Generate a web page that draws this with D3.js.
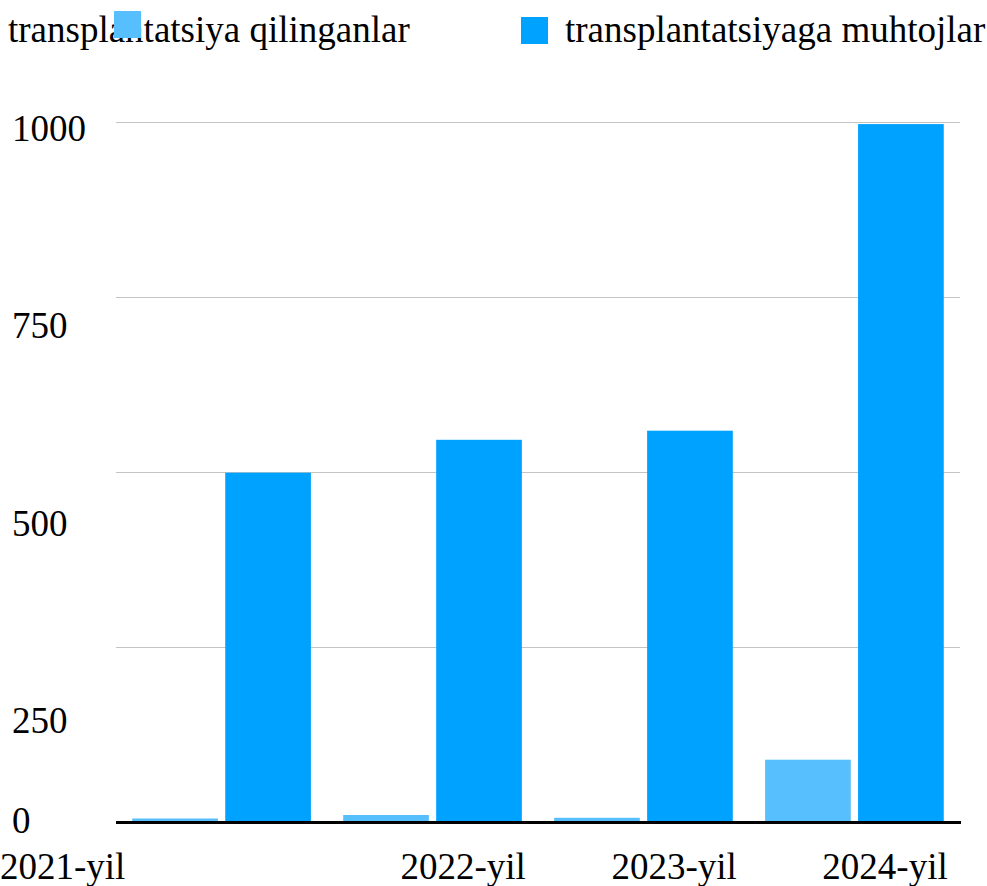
<!DOCTYPE html>
<html>
<head>
<meta charset="utf-8">
<script src="https://cdn.jsdelivr.net/npm/d3@7"></script>
<style>
  html, body { margin: 0; padding: 0; background: #fff; }
  svg { display: block; }
</style>
</head>
<body>
<div id="chart"></div>
<script>
'use strict';

// chart data
var years = ['2021-yil', '2022-yil', '2023-yil', '2024-yil'];
var seriesNames = ['transplantatsiya qilinganlar', 'transplantatsiyaga muhtojlar'];
var transplanted = [5, 10, 6, 89];
var needed = [499, 546, 559, 997];
var yTicks = [0, 250, 500, 750, 1000];
var colors = ['#58bfff', '#00a2ff'];

var width = 987, height = 886;
var margins = { top: 122, right: 27, bottom: 64, left: 116 };
var FONT = "'Liberation Serif'";

var svg = d3.select('#chart').append('svg')
  .attr('width', width)
  .attr('height', height);

// scales
var x0 = d3.scaleBand()
  .domain(years)
  .range([margins.left, width - margins.right])
  .paddingInner(0.153)
  .paddingOuter(0.077);

var x1 = d3.scaleBand()
  .domain(seriesNames)
  .range([0, x0.bandwidth()])
  .paddingInner(0.0785);

var y = d3.scaleLinear()
  .domain([0, 1000])
  .range([height - margins.bottom, margins.top]);

// tick labels sit on their own spacing, not on the gridlines
var labelY = d3.scaleLinear().domain([250, 1000]).range([733, 141]);

// gridlines
svg.append('g').attr('class', 'grid')
  .selectAll('line')
  .data(yTicks.filter(function (d) { return d > 0; }))
  .enter().append('line')
  .attr('x1', margins.left)
  .attr('x2', width - margins.right)
  .attr('y1', function (d) { return y(d) + 0.5; })
  .attr('y2', function (d) { return y(d) + 0.5; })
  .style('stroke', '#c4c4c4')
  .style('stroke-width', 1.2);

// y tick labels
svg.append('g').attr('class', 'y-labels')
  .selectAll('text')
  .data(yTicks)
  .enter().append('text')
  .attr('x', 12)
  .attr('y', function (d) { return d === 0 ? y(0) + 11 : labelY(d); })
  .attr('font-family', FONT)
  .attr('font-size', 37)
  .style('fill', '#000')
  .text(function (d) { return d; });

// bars
var rows = years.map(function (yr, i) {
  return { year: yr, values: [transplanted[i], needed[i]] };
});

var group = svg.append('g').attr('class', 'bars')
  .selectAll('g.year')
  .data(rows)
  .enter().append('g')
  .attr('class', 'year')
  .attr('transform', function (d) { return 'translate(' + x0(d.year) + ',0)'; });

group.selectAll('rect')
  .data(function (d) {
    return d.values.map(function (v, j) { return { name: seriesNames[j], value: v, idx: j }; });
  })
  .enter().append('rect')
  .attr('x', function (d) { return x1(d.name); })
  .attr('width', x1.bandwidth())
  .attr('y', function (d) { return y(d.value); })
  .attr('height', function (d) { return y(0) - y(d.value); })
  .style('fill', function (d) { return colors[d.idx]; });

// zero axis line
svg.append('line')
  .attr('x1', margins.left)
  .attr('x2', width - margins.right + 1)
  .attr('y1', y(0) + 0.5)
  .attr('y2', y(0) + 0.5)
  .style('stroke', '#000')
  .style('stroke-width', 3);

// x labels, right aligned on the group's end
svg.append('g').attr('class', 'x-labels')
  .selectAll('text')
  .data(years)
  .enter().append('text')
  .attr('x', function (d, i) {
    return i === 0 ? 0 : x0(d) + x0.bandwidth() + 4;
  })
  .attr('y', 879)
  .attr('text-anchor', function (d, i) { return i === 0 ? 'start' : 'end'; })
  .attr('font-family', FONT)
  .attr('font-size', 37)
  .style('fill', '#000')
  .text(function (d) { return d; });

// legend
var legend = svg.append('g').attr('class', 'legend');
var legendText = [8, 565];
var legendSwatch = [{ x: 114, y: 11 }, { x: 521, y: 17 }];

seriesNames.forEach(function (name, i) {
  legend.append('text')
    .attr('x', legendText[i])
    .attr('y', 42)
    .attr('font-family', FONT)
    .attr('font-size', 37)
    .style('fill', '#000')
    .text(name);
});
seriesNames.forEach(function (name, i) {
  legend.append('rect')
    .attr('x', legendSwatch[i].x)
    .attr('y', legendSwatch[i].y)
    .attr('width', 27)
    .attr('height', 27)
    .style('fill', colors[i]);
});
</script>
</body>
</html>
